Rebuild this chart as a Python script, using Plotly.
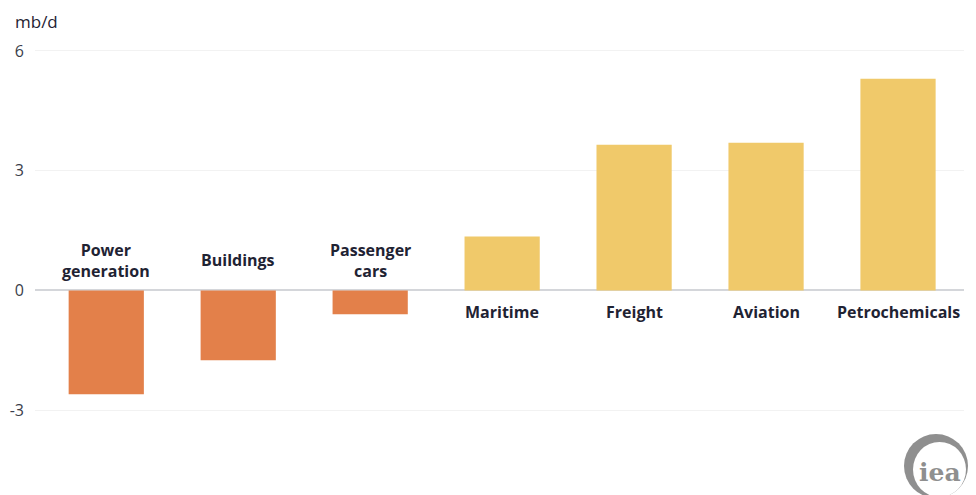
import plotly.graph_objects as go

categories = ["Power<br>generation", "Buildings", "Passenger<br>cars", "Maritime",
              "Freight", "Aviation", "Petrochemicals"]
values = [-2.6, -1.75, -0.6, 1.35, 3.65, 3.7, 5.3]
tick_vals = [-3, 0, 3, 6]
tick_text = ["-3", "0", "3", "6"]
unit_label = "mb/d"

ORANGE = "#E3804A"
YELLOW = "#F0C96A"
TEXT = "#1f2333"

colors = [ORANGE if v < 0 else YELLOW for v in values]

# page body has an 8px offset; work in reference-pixel coordinates
OFF = 8
W, H = 976 - OFF, 495 - OFF
L, R, T, B = 35 - OFF, 12, 3, 25

def px(xp):
    return (xp - OFF - L) / (W - L - R)

def py(yp):
    return (H - B - (yp - OFF)) / (H - T - B)

fig = go.Figure()
fig.add_trace(go.Bar(
    x=categories, y=values, marker=dict(color=colors, line=dict(width=0)),
    width=0.57, hoverinfo="skip",
))

for c, v in zip(categories, values):
    fig.add_annotation(
        x=c, y=0, xref="x", yref="y",
        text="<b>" + c + "</b>", showarrow=False,
        yanchor="middle", xanchor="center",
        yshift=30 if v < 0 else -22,
        font=dict(family="Open Sans", size=16, color=TEXT),
    )

fig.add_annotation(
    x=px(13), y=py(22), xref="paper", yref="paper", text=unit_label, showarrow=False,
    font=dict(family="Open Sans", size=17, color=TEXT),
    xanchor="left", yanchor="middle",
)

# IEA logo: crescent ring + text
fig.add_shape(type="circle", xref="paper", yref="paper",
              x0=px(904), x1=px(968), y0=py(498), y1=py(434),
              fillcolor="#8f8f8f", line=dict(width=0), layer="above")
fig.add_shape(type="circle", xref="paper", yref="paper",
              x0=px(913), x1=px(966), y0=py(497), y1=py(442),
              fillcolor="white", line=dict(width=0), layer="above")
fig.add_annotation(x=px(940), y=py(472), xref="paper", yref="paper",
                   text="<b>iea</b>", showarrow=False,
                   font=dict(family="DejaVu Serif", size=25, color="#8f8f8f"),
                   xanchor="center", yanchor="middle")

fig.update_layout(
    width=W, height=H,
    margin=dict(l=L, r=R, t=T, b=B),
    paper_bgcolor="white", plot_bgcolor="white",
    showlegend=False,
    xaxis=dict(showticklabels=False, showgrid=False, zeroline=False,
               showline=False, ticks="", range=[-0.54, 6.5]),
    yaxis=dict(range=[-4.5, 7], tickvals=tick_vals, ticktext=tick_text,
               showgrid=True, gridcolor="#f2f2f2", gridwidth=1,
               zeroline=True, zerolinecolor="#d4d6da", zerolinewidth=1.5,
               showline=False, ticks="",
               tickfont=dict(family="Open Sans", size=16, color="#3a3d4a"),
               ticklabelstandoff=10),
)

fig.write_html("out.html")
